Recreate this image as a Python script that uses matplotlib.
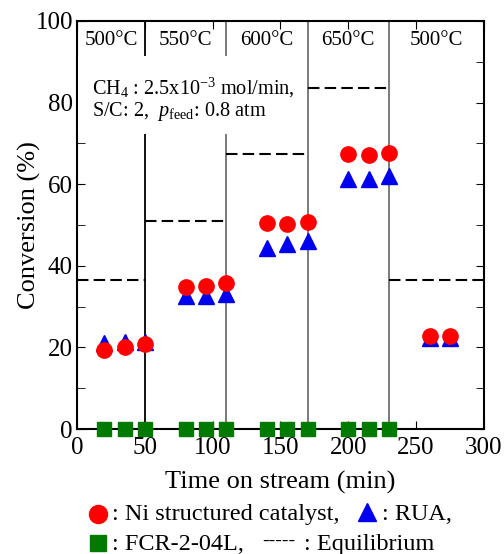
import matplotlib
matplotlib.use("Agg")
import matplotlib.pyplot as plt
from matplotlib.ticker import MultipleLocator
from matplotlib.patches import Rectangle

plt.rcParams['font.family'] = ['Liberation Serif', 'DejaVu Serif']
plt.rcParams['mathtext.fontset'] = 'custom'
plt.rcParams['mathtext.rm'] = 'Liberation Serif'
plt.rcParams['mathtext.it'] = 'Liberation Serif:italic'

# data
t_ni = [20, 35, 50, 80, 95, 110, 140, 155, 170, 200, 215, 230, 260, 275]
ni = [19.3, 20.2, 20.8, 34.9, 35.1, 35.8, 50.6, 50.3, 50.7, 67.3, 67.1, 67.6, 22.8, 22.8]
t_rua = [20, 35, 50, 80, 95, 110, 140, 155, 170, 200, 215, 230, 260, 275]
rua = [21.0, 21.3, 21.3, 32.7, 32.5, 33.1, 44.3, 45.3, 46.1, 61.3, 61.3, 62.0, 22.2, 22.2]
t_fcr = [20, 35, 50, 80, 95, 110, 140, 155, 170, 200, 215, 230]
fcr = [0, 0, 0, 0, 0, 0, 0, 0, 0, 0, 0, 0]

seg_start = [0, 50, 110, 170, 230]
seg_end = [50, 110, 170, 230, 300]
equilibrium = [36.5, 51.0, 67.5, 83.5, 36.5]
temps = ['500°C', '550°C', '600°C', '650°C', '500°C']
boundaries = [50, 110, 170, 230]

fig = plt.figure(figsize=(5.04, 5.54), dpi=100)
ax = fig.add_axes([0.153, 0.2256, 0.807, 0.7365])

for b in boundaries:
    ax.axvline(b, color='black' if b == 50 else '#707070', lw=1.3, zorder=1)

for s, e, q in zip(seg_start, seg_end, equilibrium):
    ax.plot([s, e], [q, q], color='black', lw=1.5, dashes=(5.5, 2.5), zorder=2)

for s, e, lab in zip(seg_start, seg_end, temps):
    ax.text((s + e) / 2, 95.2, lab, ha='center', va='center', fontsize=15, zorder=4)

ax.plot(t_fcr, fcr, 's', color='#007a00', ms=9.6, clip_on=False, zorder=5)
ax.plot(t_rua, rua, '^', color='#0000ee', ms=11, zorder=5)
ax.plot(t_ni, ni, 'o', color='#ff0000', ms=11, zorder=6)

# white box behind the run conditions
ax.add_patch(Rectangle((1, 72.2), 167, 19.2, facecolor='white', edgecolor='none', zorder=3))
ax.text(11, 83.6, r'CH$_4$ : 2.5x10$^{-3}$ mol/min,', fontsize=14.6, va='center', zorder=4)
ax.text(11, 77.8, r'S/C: 2,  $\mathit{p}_{\rm feed}$: 0.8 atm', fontsize=14.6, va='center', zorder=4)

ax.set_xlim(0, 300)
ax.set_ylim(0, 100)
ax.xaxis.set_major_locator(MultipleLocator(50))
ax.yaxis.set_major_locator(MultipleLocator(20))
ax.yaxis.set_minor_locator(MultipleLocator(10))
ax.tick_params(which='both', direction='in', top=True, right=True, labelsize=18, length=6)
ax.tick_params(axis='x', pad=6)
ax.tick_params(axis='y', pad=3)
for sp in ax.spines.values():
    sp.set_linewidth(1.5)

ax.set_xlabel('Time on stream (min)', fontsize=19, labelpad=8)
ax.set_ylabel('Conversion (%)', fontsize=19, labelpad=-4)

# legend below the axes
fig.lines.append(plt.Line2D([0.194], [0.073], marker='o', color='#ff0000', ms=13,
                            transform=fig.transFigure, figure=fig))
fig.text(0.222, 0.072, ': Ni structured catalyst,', fontsize=17.5, va='center')
fig.lines.append(plt.Line2D([0.728], [0.075], marker='^', color='#0000ee', ms=13,
                            transform=fig.transFigure, figure=fig))
fig.text(0.757, 0.072, ': RUA,', fontsize=17.5, va='center')
fig.lines.append(plt.Line2D([0.194], [0.019], marker='s', color='#007a00', ms=12,
                            transform=fig.transFigure, figure=fig))
fig.text(0.222, 0.018, ': FCR-2-04L,', fontsize=17.5, va='center')
fig.text(0.52, 0.022, '-----', fontsize=14, va='center')
fig.text(0.603, 0.018, ': Equilibrium', fontsize=17.5, va='center')

fig.savefig('out.png', dpi=100)
